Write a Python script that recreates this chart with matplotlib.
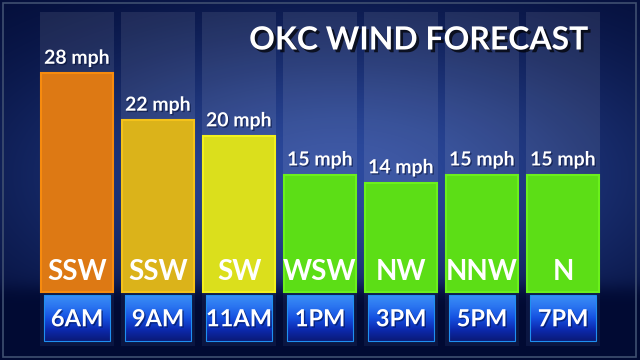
import numpy as np
import matplotlib.pyplot as plt
import matplotlib.patheffects as pe
from matplotlib.colors import LinearSegmentedColormap, to_rgb
from matplotlib.patches import Rectangle

# Forecast data
times = ['6AM', '9AM', '11AM', '1PM', '3PM', '5PM', '7PM']
speeds = [28, 22, 20, 15, 14, 15, 15]
directions = ['SSW', 'SSW', 'SW', 'WSW', 'NW', 'NNW', 'N']
bar_colors = ['#dd7914', '#dbb31a', '#dbdf1c', '#5cde16', '#5cde16', '#5cde16', '#5cde16']
edge_colors = ['#f78b0e', '#f4c21a', '#f2f01e', '#6cf01c', '#6cf01c', '#6cf01c', '#6cf01c']
title = 'OKC WIND FORECAST'

W, H = 640, 360
PX_PER_MPH = 7.82
FONT = ['Lato', 'DejaVu Sans']

fig = plt.figure(figsize=(6.4, 3.6), dpi=100)

# background: dark navy with a brighter blue glow in the upper middle
bg = fig.add_axes([0, 0, 1, 1])
bg.set_xlim(0, W)
bg.set_ylim(H, 0)
bg.axis('off')
yy, xx = np.mgrid[0:H, 0:W]
glow = np.exp(-((xx - 340) / 330.0) ** 2 - ((yy - 175) / 150.0) ** 2)
glow *= 1.0 / (1.0 + np.exp((yy - 288) / 5.0))
dark = np.array(to_rgb('#010a33'))
light = np.array(to_rgb('#2c4a9e'))
img = dark + (light - dark) * glow[..., None]
bg.imshow(img, extent=[0, W, H, 0], aspect='auto', zorder=0)
bg.add_patch(Rectangle((3, 3), 633, 354, fill=False, ec='#3f4f70', lw=1.2))

# bar axes, placed so the zero line sits at y=292 px
x0 = 36.5
ax = fig.add_axes([x0 / W, 68 / H, 567 / W, 30 * PX_PER_MPH / H])
ax.patch.set_alpha(0)
ax.axis('off')
x = np.arange(len(times))

# column panels behind the bars
ax.bar(x, 35.8, bottom=0, width=74 / 81, color='white', alpha=0.09,
       zorder=1, clip_on=False)
ax.bar(x, 6.9, bottom=-6.9, width=74 / 81, color='#2a3a70', alpha=0.25,
       zorder=1, clip_on=False)

# wind speed bars
ax.bar(x, speeds, width=72 / 81, color=bar_colors, edgecolor=edge_colors,
       linewidth=1.5, zorder=3, clip_on=False)

# time boxes with a blue gradient
box_cmap = LinearSegmentedColormap.from_list(
    'box', ['#3a8ef6', '#2a74f0', '#1550e0', '#0c2ab0', '#0a1a78'])
grad = np.linspace(0, 1, 64)[:, None]
box_w = 66 / 81
box_top = -3 / PX_PER_MPH
box_bot = -49 / PX_PER_MPH
for xi, t in zip(x, times):
    im = ax.imshow(grad, cmap=box_cmap, aspect='auto', zorder=5,
                   extent=[xi - box_w / 2, xi + box_w / 2, box_bot, box_top])
    im.set_clip_on(False)
    ax.add_patch(Rectangle((xi - box_w / 2, box_bot), box_w, box_top - box_bot,
                           fill=False, ec='#1f8ff0', lw=0.8, zorder=6,
                           clip_on=False))
    ax.text(xi, (box_top + box_bot) / 2 - 0.1, t, ha='center', va='center',
            color='white', fontsize=17, fontweight='bold', family=FONT,
            zorder=7, clip_on=False,
            path_effects=[pe.withSimplePatchShadow(offset=(1, -1),
                                                   shadow_rgbFace='#001050',
                                                   alpha=0.6)])

# labels
for xi, s, d in zip(x, speeds, directions):
    ax.text(xi, s + 0.8, f'{s} mph', ha='center', va='bottom', color='white',
            fontsize=14, fontweight='bold', family=FONT, zorder=7,
            path_effects=[pe.withSimplePatchShadow(offset=(1, -1),
                                                   shadow_rgbFace='#000a30',
                                                   alpha=0.5)])
    ax.text(xi, 2.6, d, ha='center', va='center', color='white',
            fontsize=20, fontweight='bold', family=FONT, zorder=7)

ax.set_xlim(-0.5, 6.5)
ax.set_ylim(0, 30)

fig.text(589 / W, 1 - 40 / H, title, ha='right', va='center', color='white',
         fontsize=23, fontweight='bold', family=FONT,
         path_effects=[pe.withSimplePatchShadow(offset=(2, -2),
                                                shadow_rgbFace='black',
                                                alpha=0.7)])

fig.savefig('out.png', dpi=100)
